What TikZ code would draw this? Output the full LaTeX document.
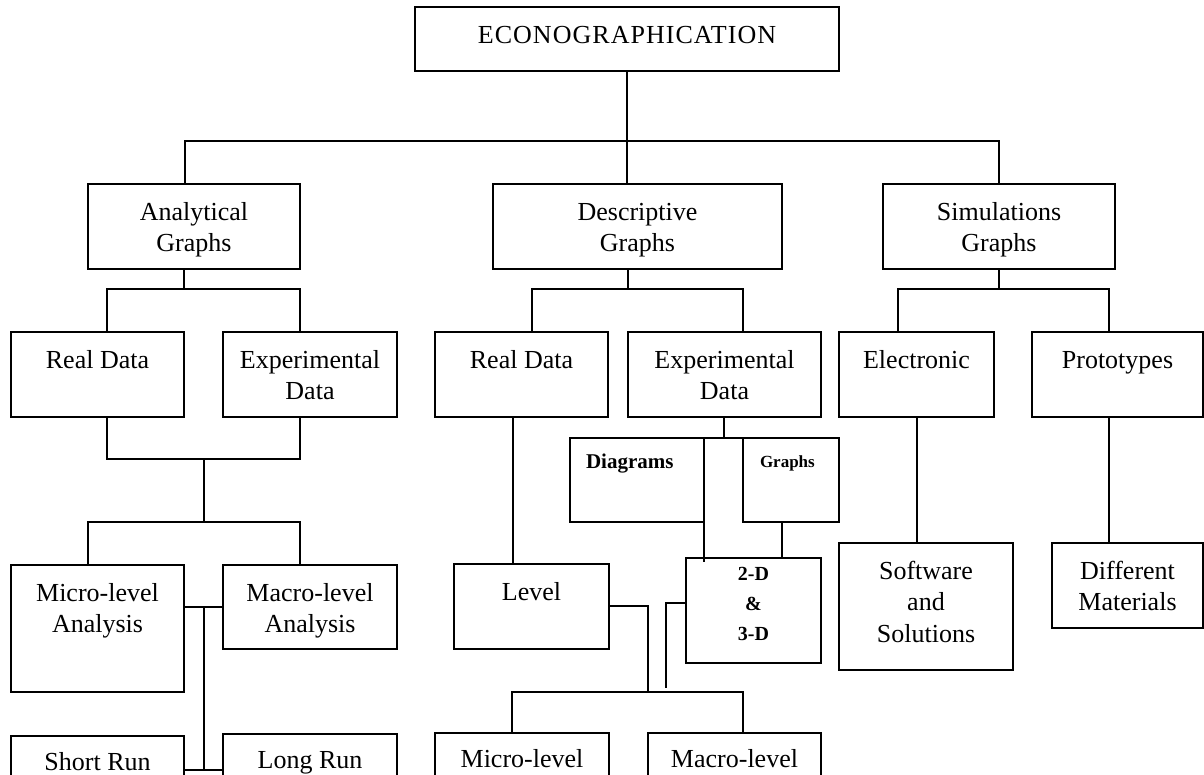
\documentclass[tikz,border=0pt]{standalone}
\usepackage{fontspec}
\setmainfont{Liberation Serif}
\usetikzlibrary{positioning}

\begin{document}
\begin{tikzpicture}[x=1pt, y=-1pt, line width=1.5pt]
  \tikzstyle{box}=[rectangle, draw=black, line width=1.5pt, inner sep=0pt, outer sep=0pt, align=center, text height=36pt, text depth=49pt, font=\fontsize{26}{31.5}\selectfont]
  \tikzstyle{twoline}=[box, text height=67.5pt, text depth=17.5pt]
  \tikzstyle{smallbox}=[box, align=left, font=\bfseries\fontsize{21}{26}\selectfont]

  \useasboundingbox (0,0) rectangle (1204,774);
  \clip (0,0) rectangle (1204,774);

  % Nivel superior
  \node[box, minimum width=424pt, text depth=28pt, font=\fontsize{26}{31.5}\selectfont\addfontfeature{LetterSpace=4}] (eco) at (627,39) {ECONOGRAPHICATION};

  % Tipos de graficos
  \node[twoline, minimum width=212pt] (agr) at (194,226.5) {Analytical\\Graphs};
  \node[twoline, minimum width=289pt] (dgr) at (637.5,226.5) {Descriptive\\Graphs};
  \node[twoline, minimum width=232pt] (sgr) at (999,226.5) {Simulations\\Graphs};

  % Datos
  \node[box, minimum width=173pt] (rda) at (97.5,374.5) {Real Data};
  \node[twoline, minimum width=174pt] (eda) at (310,374.5) {Experimental\\Data};
  \node[box, minimum width=173pt] (rdb) at (521.5,374.5) {Real Data};
  \node[twoline, minimum width=193pt] (edb) at (724.5,374.5) {Experimental\\Data};
  \node[box, minimum width=155pt] (ele) at (916.5,374.5) {Electronic};
  \node[box, minimum width=171pt] (pro) at (1117.5,374.5) {Prototypes};

  % Rama analitica
  \node[twoline, minimum width=173pt, text depth=59.5pt] (mia) at (97.5,628.5) {Micro-level\\Analysis};
  \node[twoline, minimum width=174pt, text depth=16.5pt] (maa) at (310,607) {Macro-level\\Analysis};
  \node[box, minimum width=173pt, text height=34pt, text depth=51pt] (srn) at (97.5,778.5) {Short Run};
  \node[box, minimum width=174pt, text height=34pt, text depth=51pt] (lrn) at (310,776.5) {Long Run};

  % Rama descriptiva
  \node[box, minimum width=155pt] (lev) at (531.5,606.5) {Level};
  \node[smallbox, inner xsep=16pt, text width=102pt, text height=30pt, text depth=54pt] (dia) at (637,480) {Diagrams};
  \node[smallbox, inner xsep=17pt, text width=62pt, text height=29pt, text depth=55pt, font=\bfseries\fontsize{17}{21}\selectfont] (gra) at (791,480) {Graphs};
  \node[box, minimum width=135pt, text height=82pt, text depth=23pt, font=\bfseries\fontsize{20}{30}\selectfont] (tdd) at (753.5,610.5) {2-D\\\&\\3-D};
  \node[box, minimum width=174pt, text height=34pt, text depth=51pt] (mib) at (522,775.5) {Micro-level};
  \node[box, minimum width=173pt, text height=34pt, text depth=51pt] (mab) at (734.5,775.5) {Macro-level};

  % Rama de simulaciones
  \node[box, minimum width=174pt, text height=99pt, text depth=28pt] (sas) at (926,606.5) {Software\\and\\Solutions};
  \node[twoline, minimum width=151pt] (dim) at (1127.5,585.5) {Different\\Materials};

  % Niveles de las barras
  \coordinate (bar0) at (0,141);
  \coordinate (bar1) at (0,289);
  \coordinate (bar2) at (0,459);
  \coordinate (bar3) at (0,522);
  \coordinate (bar4) at (0,692);
  \coordinate (runs) at (0,770);
  \coordinate (ja) at (204,459);

  % Conexiones superiores
  \draw (eco.south) -- (eco.south |- dgr.north);
  \draw ([xshift=-9pt]agr.north) |- (sgr.north |- bar0) -- (sgr.north);

  % Conexiones analiticas
  \draw ([xshift=-10pt]agr.south) -- ([xshift=-10pt]agr.south |- bar1);
  \draw ([xshift=9.5pt]rda.north) |- ([xshift=-10pt]eda.north |- bar1) -- ([xshift=-10pt]eda.north);
  \draw ([xshift=9.5pt]rda.south) |- ([xshift=-10pt]eda.south |- bar2) -- ([xshift=-10pt]eda.south);
  \draw (ja) -- (ja |- bar3);
  \draw ([xshift=-9.5pt]mia.north) |- ([xshift=-10pt]maa.north |- bar3) -- ([xshift=-10pt]maa.north);
  \draw (maa.west) -- (maa.west -| mia.east);
  \draw (ja |- maa.west) -- (ja |- runs);
  \draw (srn.east |- runs) -- (lrn.west |- runs);

  % Conexiones descriptivas
  \draw ([xshift=-9.5pt]dgr.south) -- ([xshift=-9.5pt]dgr.south |- bar1);
  \draw ([xshift=10.5pt]rdb.north) |- ([xshift=18.5pt]edb.north |- bar1) -- ([xshift=18.5pt]edb.north);
  \draw ([xshift=-8.5pt]rdb.south) -- ([xshift=-8.5pt]rdb.south |- lev.north);
  \draw ([xshift=-0.5pt]edb.south) -- ([xshift=-0.5pt]edb.south |- dia.north);
  \draw (dia.north east) -- (gra.north west);
  \draw (dia.south east) -- ([yshift=-4pt]dia.south east |- tdd.north);
  \draw ([xshift=-9pt]gra.south) -- ([xshift=-9pt]gra.south |- tdd.north);
  \draw ([yshift=0.5pt]lev.east) -| ([xshift=39pt]lev.east |- bar4);
  \draw ([yshift=7.5pt]tdd.west) -| ([xshift=-20pt,yshift=4pt]tdd.west |- bar4);
  \draw ([xshift=-10pt]mib.north) |- ([xshift=8.5pt]mab.north |- bar4) -- ([xshift=8.5pt]mab.north);

  % Conexiones de simulaciones
  \draw (sgr.south) -- (sgr.south |- bar1);
  \draw ([xshift=-18.5pt]ele.north) |- ([xshift=-8.5pt]pro.north |- bar1) -- ([xshift=-8.5pt]pro.north);
  \draw ([xshift=0.5pt]ele.south) -- ([xshift=0.5pt]ele.south |- sas.north);
  \draw ([xshift=-8.5pt]pro.south) -- ([xshift=-8.5pt]pro.south |- dim.north);
\end{tikzpicture}
\end{document}
